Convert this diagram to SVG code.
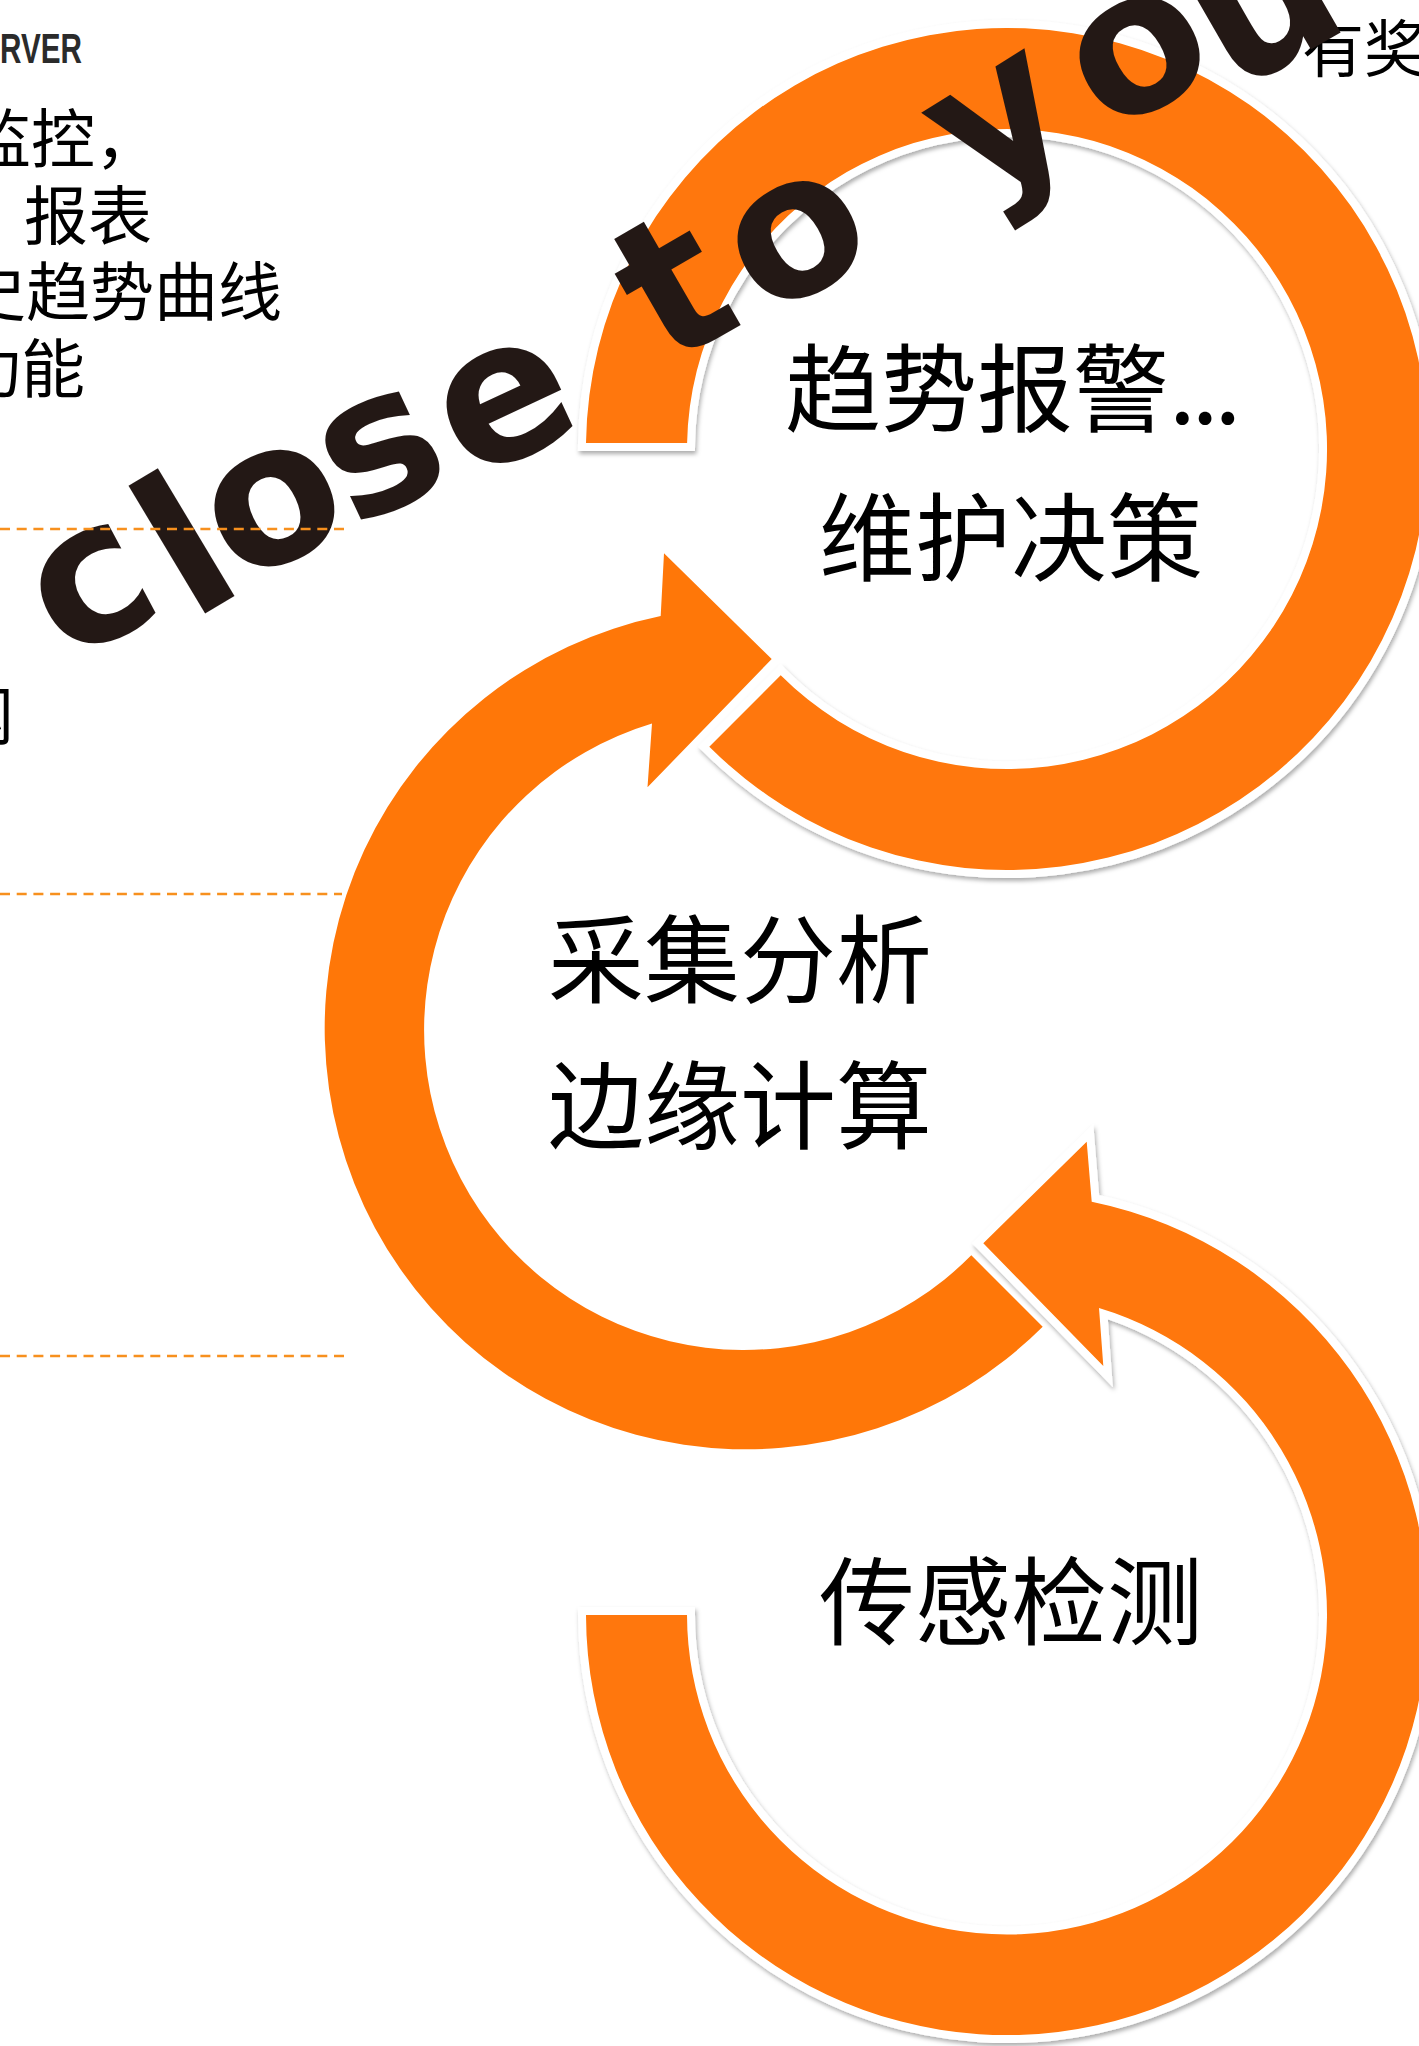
<svg xmlns="http://www.w3.org/2000/svg" width="1419" height="2046" viewBox="0 0 1419 2046">
  <defs>
    <filter id="lift" x="-10%" y="-10%" width="120%" height="120%">
      <feDropShadow dx="1.5" dy="3" stdDeviation="2.2" flood-color="#000" flood-opacity="0.32"/>
    </filter>
  </defs>
  <style>
    .band { fill: #FF7708; }
    .edged { stroke: #fff; stroke-width: 16; stroke-linejoin: miter; stroke-miterlimit: 10; paint-order: stroke; filter: url(#lift); }
    .cjk { font-family: "Noto Sans CJK SC", "Noto Sans", sans-serif; fill: #000; }
    .label { font-size: 96px; }
    .side { font-size: 64px; }
    .rule { stroke: #F7901E; stroke-width: 2.5; stroke-dasharray: 10 6.7; fill: none; }
    .script { font-family: "DejaVu Sans", sans-serif; font-weight: bold; font-size: 196px; fill: #231815; }
  </style>

  <rect width="1419" height="2046" fill="#fff"/>

  <!-- left column copy, running off the left edge -->
  <g id="side-notes">
    <text x="0" y="63" font-family="Liberation Sans, sans-serif" font-weight="bold" font-size="43" fill="#2b2b2b" textLength="82" lengthAdjust="spacingAndGlyphs">RVER</text>
    <text class="cjk side" x="-33" y="162">监控，</text>
    <text class="cjk side" x="24" y="239">报表</text>
    <text class="cjk side" x="-38" y="315">史趋势曲线</text>
    <text class="cjk side" x="-43" y="392">功能</text>
    <text class="cjk side" x="-50" y="739">网</text>
  </g>

  <text id="prize" class="cjk" x="1302" y="72" font-size="62">有奖</text>

  <!-- the three circular arrows of the cycle -->
  <g id="connectors">
    <!-- collection ring: tail at lower right, head pointing into the top ring -->
    <path id="arrow-edge" class="band"
          d="M 660.7 616 A 421 421 0 1 0 1042.7 1326.7 L 971.3 1255.3 A 320 320 0 1 1 652 723.5 L 647.5 787.3 L 771.7 659 L 664 553.3 Z"/>
    <!-- top ring: open band from 9 o'clock round to the lower left -->
    <path id="arrow-trend" class="band edged"
          d="M 586 443 A 421 421 0 1 1 709.3 746.7 L 780.7 675.3 A 320 320 0 1 0 687.1 443 Z"/>
    <!-- sensing ring: from 9 o'clock down and round, head pointing into the middle ring -->
    <path id="arrow-sense" class="band edged"
          d="M 586 1615 A 421 421 0 1 0 1091.7 1201.7 L 1086.7 1141.7 L 983.3 1243.3 L 1103.3 1366 L 1099 1308 A 320 320 0 1 1 687 1615 Z"/>
  </g>

  <g id="node-trend">
    <text class="cjk label" x="785" y="424">趋势报警<tspan letter-spacing="-4">...</tspan></text>
    <text class="cjk label" x="819" y="573">维护决策</text>
  </g>

  <g id="node-edge">
    <text class="cjk label" x="548" y="995">采集分析</text>
    <text class="cjk label" x="548" y="1141">边缘计算</text>
  </g>

  <g id="node-sense">
    <text class="cjk label" x="819" y="1637">传感检测</text>
  </g>

  <!-- slogan lettering sweeping up across the top ring -->
  <text id="slogan" class="script"
        x="66 191 236 352 468 590.9 666 766 900 976 1108 1234"
        y="664 622 585 528 482 423.1 368 320 260 205 136 94"
        rotate="-28 -31 -25 -25 -25 -25 -30 -30 -30 -32 -30 -30">close to you</text>

  <!-- dashed dividers in the left column -->
  <g id="dividers">
    <line class="rule" x1="0" y1="529" x2="348" y2="529"/>
    <line class="rule" x1="0" y1="894" x2="342" y2="894"/>
    <line class="rule" x1="0" y1="1356" x2="350" y2="1356"/>
  </g>
</svg>
